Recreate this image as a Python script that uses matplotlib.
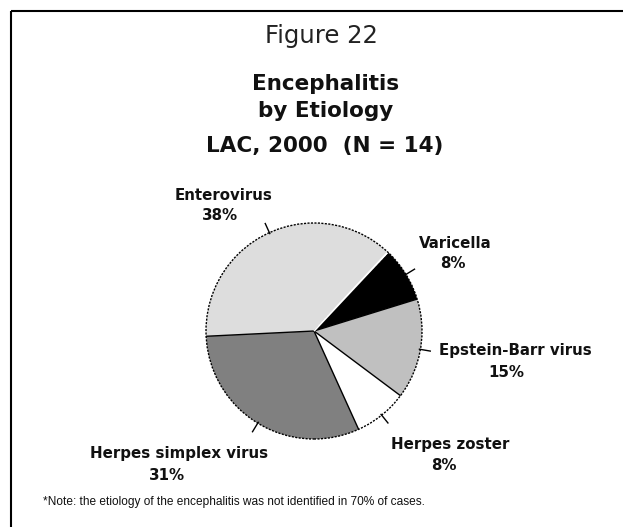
import matplotlib
matplotlib.use('Agg')
import matplotlib.pyplot as plt
import numpy as np
from matplotlib.patches import Circle
from matplotlib import font_manager

# ---- data ----
categories = ['Varicella', 'Epstein-Barr virus', 'Herpes zoster',
              'Herpes simplex virus', 'Enterovirus']
percents = [8, 15, 8, 31, 38]
pct_labels = ['8%', '15%', '8%', '31%', '38%']

# ---- style / layout ----
colors = ['#000000', '#c0c0c0', '#ffffff', '#808080', '#dddddd']
W, H = 623, 527
def Y(y):
    return H - y

# per-label text positions (pixels, name line & pct line), baseline anchored
name_pos = [(455, 248), (515, 355), (450, 449), (179, 458), (224, 200)]
pct_pos = [(453, 268), (506, 377), (444, 470), (167, 480), (220, 220)]

fig = plt.figure(figsize=(W / 100, H / 100), dpi=100)
ax = fig.add_axes([0, 0, 1, 1])

center = (314, Y(331))
R = 108
wedges, _ = ax.pie(percents, colors=colors, startangle=46, counterclock=False,
                   radius=R, center=center, frame=True,
                   wedgeprops=dict(linewidth=0))
ax.set_xlim(0, W)
ax.set_ylim(0, H)
ax.set_aspect('equal')
ax.axis('off')

# radial boundaries
first_angle = wedges[0].theta2          # Enterovirus / Varicella boundary
last_angle = wedges[-1].theta1          # Herpes simplex / Enterovirus boundary
angles = sorted(set([round(w.theta1, 6) for w in wedges] + [round(w.theta2, 6) for w in wedges]))
for a in angles:
    t = np.deg2rad(a)
    ls = (0, (2, 1)) if abs(a - last_angle) < 1e-3 else '-'
    ax.plot([center[0], center[0] + R * np.cos(t)],
            [center[1], center[1] + R * np.sin(t)],
            color='black', lw=1.0, ls=ls, solid_capstyle='butt', zorder=3)
# thin white sliver next to the Enterovirus / Varicella boundary
t = np.deg2rad(first_angle + 0.9)
ax.plot([center[0], center[0] + R * np.cos(t)],
        [center[1], center[1] + R * np.sin(t)],
        color='white', lw=1.3, solid_capstyle='butt', zorder=3)

# outer dotted circle
ax.add_patch(Circle(center, R, fill=False, ec='black', lw=1.0,
                    ls=(0, (1.5, 1.0)), zorder=4))

# ticks + labels
lab_font = dict(family='DejaVu Sans', weight='bold', size=10.8, color='#111111')
for w, name, pct, npos, ppos in zip(wedges, categories, pct_labels, name_pos, pct_pos):
    mid = np.deg2rad((w.theta1 + w.theta2) / 2)
    ax.plot([center[0] + (R - 1) * np.cos(mid), center[0] + (R + 10) * np.cos(mid)],
            [center[1] + (R - 1) * np.sin(mid), center[1] + (R + 10) * np.sin(mid)],
            color='black', lw=1.0, zorder=4)
    ax.text(npos[0], Y(npos[1]), name, ha='center', va='baseline', **lab_font)
    ax.text(ppos[0], Y(ppos[1]), pct, ha='center', va='baseline', **lab_font)

# titles
ax.text(321, Y(43), 'Figure 22', ha='center', va='baseline',
        family='DejaVu Sans', size=17.5, color='#222222')
title_font = dict(family='DejaVu Sans', weight='bold', size=15.5, color='#111111')
ax.text(326, Y(90), 'Encephalitis', ha='center', va='baseline', **title_font)
ax.text(326, Y(117), 'by Etiology', ha='center', va='baseline', **title_font)
ax.text(325, Y(152), 'LAC, 2000  (N = 14)', ha='center', va='baseline', **title_font)

# footnote
names = {f.name for f in font_manager.fontManager.ttflist}
foot_fam = 'Liberation Sans Narrow' if 'Liberation Sans Narrow' in names else 'Liberation Sans'
foot_size = 10 if foot_fam == 'Liberation Sans Narrow' else 8.6
ax.text(43, Y(505), '*Note: the etiology of the encephalitis was not identified in 70% of cases.',
        ha='left', va='baseline', family=foot_fam, size=foot_size, color='#111111')

# frame lines (box cropped at right/bottom)
ax.plot([11, W], [Y(11), Y(11)], color='black', lw=1.5, solid_capstyle='butt')
ax.plot([11, 11], [Y(11), 0], color='black', lw=1.5, solid_capstyle='butt')

fig.savefig('out.png', dpi=100)
